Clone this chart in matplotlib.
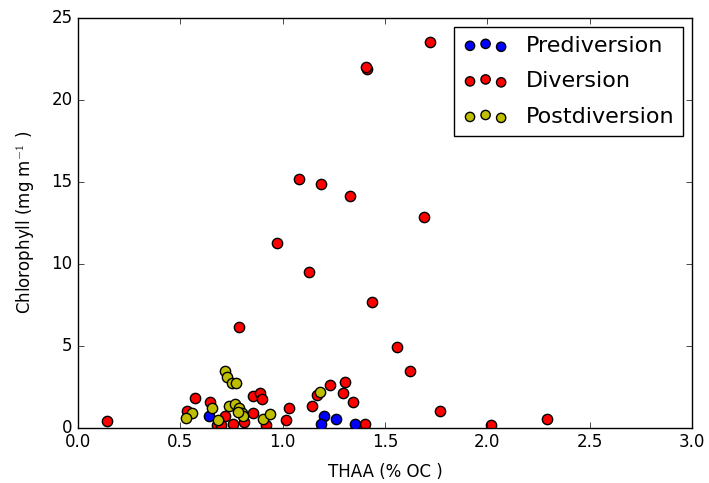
import numpy as np
import matplotlib
matplotlib.use('Agg')
import matplotlib.pyplot as plt

# THAA (% OC) vs chlorophyll
pre_x = [0.642, 1.202, 1.259, 1.187, 1.353]
pre_y = [0.73, 0.73, 0.53, 0.22, 0.22]

div_x = [0.14, 1.08, 0.972, 1.13, 0.787, 1.187, 1.33, 1.41, 1.405, 1.72, 1.69,
         1.437, 1.56, 1.62, 1.77, 2.02, 2.29, 0.572, 0.531, 0.645, 0.718, 0.756,
         0.678, 0.70, 0.857, 0.889, 0.897, 0.853, 0.811, 0.919, 1.033, 1.016,
         1.142, 1.166, 1.231, 1.305, 1.296, 1.345, 1.40]
div_y = [0.43, 15.18, 11.28, 9.5, 6.16, 14.88, 14.15, 21.9, 22.0, 23.5, 12.87,
         7.68, 4.94, 3.48, 1.04, 0.18, 0.55, 1.81, 1.04, 1.6, 0.73, 0.22,
         0.18, 0.2, 1.95, 2.15, 1.77, 0.94, 0.39, 0.18, 1.24, 0.49,
         1.36, 2.0, 2.62, 2.79, 2.15, 1.56, 0.25]

post_x = [0.718, 0.73, 0.751, 0.77, 0.555, 0.528, 0.653, 0.686, 0.74, 0.767,
          0.787, 0.80, 0.808, 0.906, 0.938, 1.182, 0.78]
post_y = [3.5, 3.13, 2.72, 2.72, 0.94, 0.59, 1.24, 0.49, 1.34, 1.44,
          1.2, 0.94, 0.73, 0.53, 0.85, 2.17, 1.0]

plt.style.use('classic')
plt.rcParams['figure.facecolor'] = 'white'
plt.rcParams['savefig.facecolor'] = 'white'

fig = plt.figure(figsize=(7.09, 4.83), dpi=100)
ax = fig.add_axes([0.110, 0.114, 0.866, 0.849])

ax.scatter(pre_x, pre_y, s=55, c='b', edgecolors='k', label='Prediversion', zorder=3)
ax.scatter(div_x, div_y, s=55, c='r', edgecolors='k', label='Diversion', zorder=2)
ax.scatter(post_x, post_y, s=55, c='y', edgecolors='k', label='Postdiversion', zorder=4)

ax.set_xlim(0, 3.0)
ax.set_ylim(0, 25)
ax.set_xlabel('THAA (% OC )', labelpad=8)
ax.set_ylabel('Chlorophyll (mg m$^{-1}$ )', labelpad=10)

ax.legend(loc='upper right', fontsize=16, labelspacing=0.7, markerscale=0.9,
          handletextpad=0.8, borderaxespad=0.4)

fig.savefig('out.png', dpi=100)
